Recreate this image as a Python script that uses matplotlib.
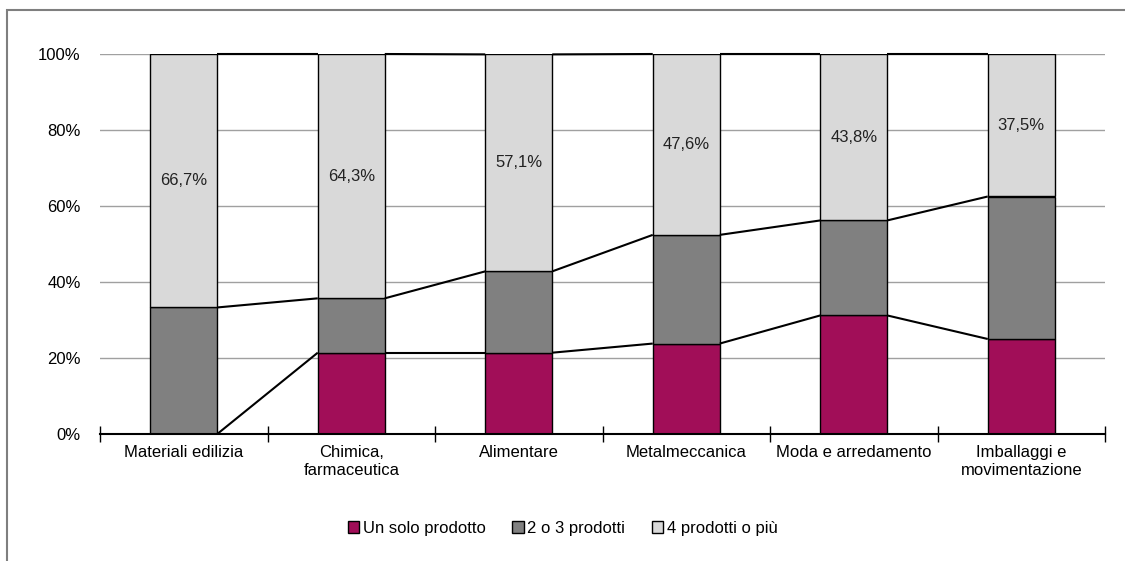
import matplotlib.pyplot as plt
import matplotlib.patches as mpatches
import numpy as np

plt.rcParams['font.family'] = ['Liberation Sans Narrow', 'Liberation Sans', 'DejaVu Sans']

categories = ["Materiali edilizia", "Chimica,\nfarmaceutica", "Alimentare",
              "Metalmeccanica", "Moda e arredamento", "Imballaggi e\nmovimentazione"]
uno = [0.0, 21.4, 21.4, 23.8, 31.2, 25.0]
due_tre = [33.3, 14.3, 21.4, 28.6, 25.0, 37.5]
quattro = [66.7, 64.3, 57.1, 47.6, 43.8, 37.5]
series_names = ["Un solo prodotto", "2 o 3 prodotti", "4 prodotti o più"]
colors = ["#A10E58", "#808080", "#D9D9D9"]

fig = plt.figure(figsize=(11.25, 5.61), dpi=100)
fig.patches.append(mpatches.Rectangle((7 / 1125, -0.1), 1.2, 1 - 10 / 561 + 0.1,
                                      transform=fig.transFigure, fill=False,
                                      edgecolor="#7f7f7f", linewidth=1.5))
ax = fig.add_axes([100 / 1125, 1 - 434 / 561, 1005 / 1125, 380 / 561])

x = np.arange(len(categories))
w = 0.4
bottom = np.zeros(len(categories))
handles = []
for vals, name, c in zip([uno, due_tre, quattro], series_names, colors):
    b = ax.bar(x, vals, w, bottom=bottom, color=c, edgecolor="black", linewidth=1, zorder=3, label=name)
    handles.append(b)
    bottom = bottom + np.array(vals)

# series lines between bars
cum1 = np.array(uno)
cum2 = cum1 + np.array(due_tre)
cum3 = cum2 + np.array(quattro)
for cum in [cum1, cum2, cum3]:
    for i in range(len(x) - 1):
        ax.plot([x[i] + w / 2, x[i + 1] - w / 2], [cum[i], cum[i + 1]],
                color="black", linewidth=1.5, zorder=4, solid_capstyle="butt", clip_on=False)

for i in range(len(x)):
    ax.text(x[i], cum2[i] + quattro[i] / 2, f"{quattro[i]:.1f}%".replace(".", ","),
            ha="center", va="center", fontsize=12, color="#222222", zorder=5)

ax.set_xlim(-0.5, len(x) - 0.5)
ax.set_ylim(0, 100)
ax.set_yticks([0, 20, 40, 60, 80, 100])
ax.set_yticklabels([f"{v}%" for v in [0, 20, 40, 60, 80, 100]], fontsize=12)
ax.tick_params(axis="y", length=0, pad=20 - 6)
ax.yaxis.grid(True, color="#a0a0a0", linewidth=1, zorder=0)
ax.set_axisbelow(True)

ax.set_xticks(np.arange(-0.5, len(x), 1.0))
ax.set_xticklabels([])
ax.set_xticks(x, minor=True)
ax.set_xticklabels(categories, minor=True, fontsize=12)
ax.tick_params(axis="x", which="major", direction="inout", length=12, width=1)
ax.tick_params(axis="x", which="minor", length=0, pad=8)

for s in ["left", "right", "top"]:
    ax.spines[s].set_visible(False)
ax.spines["bottom"].set_linewidth(1.5)
ax.spines["bottom"].set_zorder(5)

fig.legend(handles=handles, labels=series_names, loc="center", bbox_to_anchor=(0.5, 1 - 528 / 561),
           ncol=3, frameon=False, fontsize=12, handlelength=0.7, handleheight=0.7,
           handletextpad=0.2, columnspacing=1.6)

fig.savefig("out.png", dpi=100)
